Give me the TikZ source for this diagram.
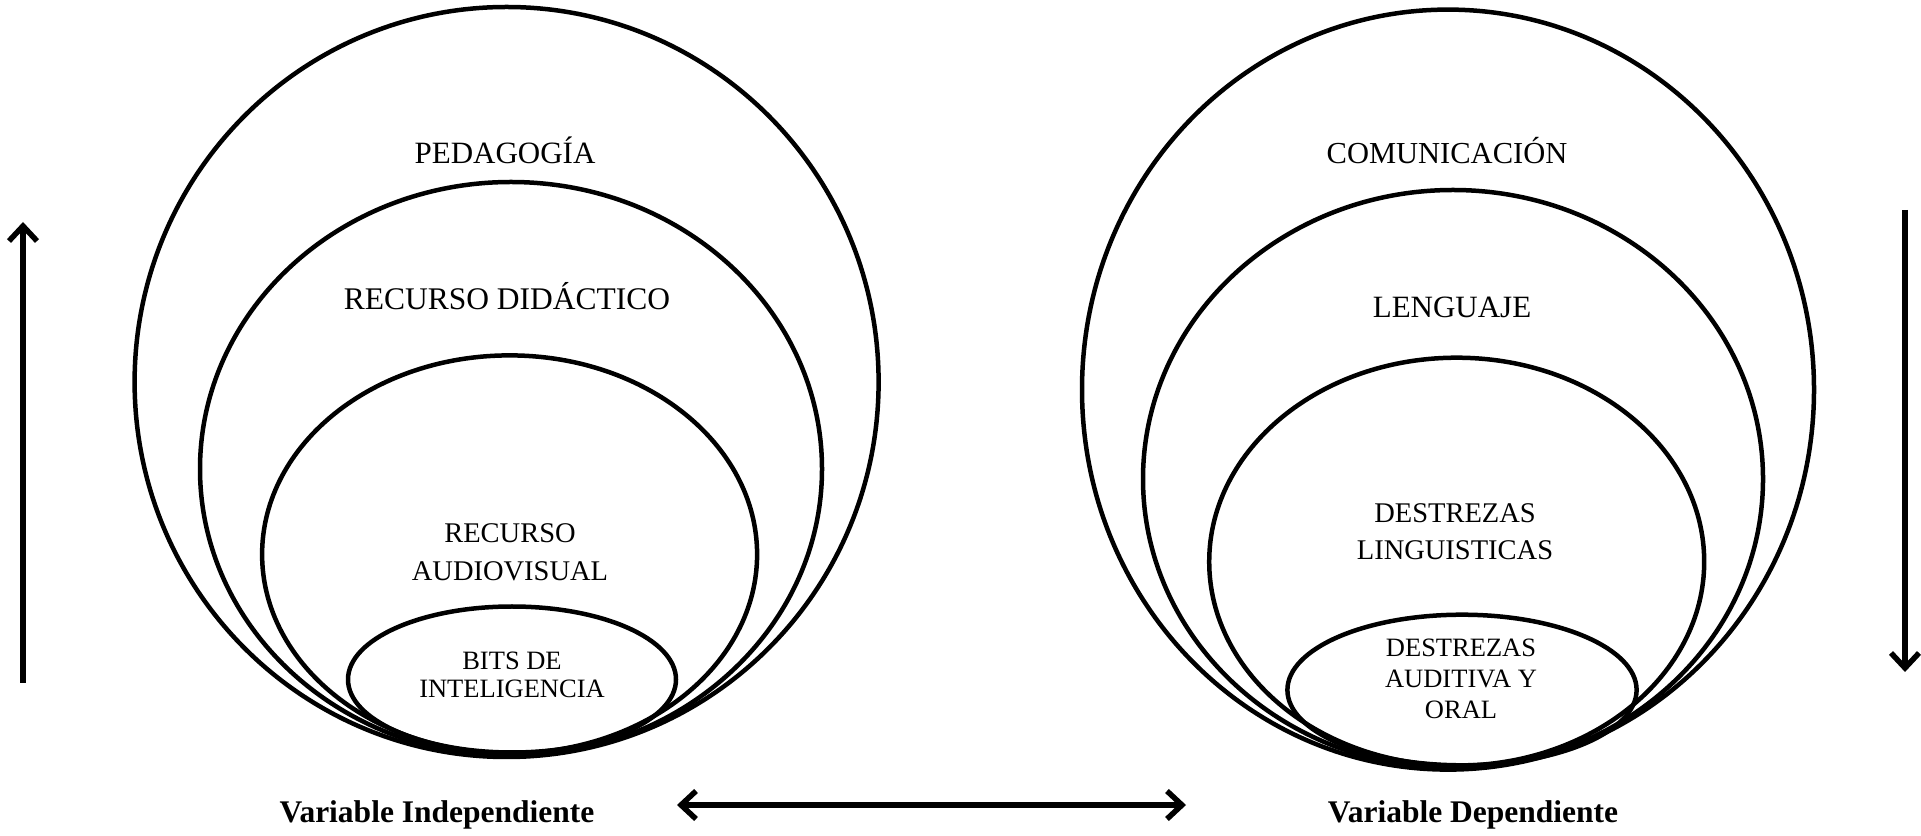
\documentclass[tikz,border=0pt]{standalone}
\usepackage{fontspec}
\setmainfont{Liberation Serif}
\usetikzlibrary{arrows.meta}
\usetikzlibrary{positioning}

\tikzset{
  ring/.style={line width=4.5pt},
  biglabel/.style={font=\fontsize{31}{37}\selectfont, align=center},
  midlabel/.style={font=\fontsize{28.5}{38}\selectfont, align=center},
  smalllabel/.style={font=\fontsize{26.5}{28}\selectfont, align=center},
  varlabel/.style={font=\bfseries\fontsize{31.5}{36}\selectfont},
  flow/.style={line width=5.5pt},
}

\begin{document}
\begin{tikzpicture}[x=1pt, y=1pt, >={Straight Barb[length=15pt, width=28pt]}]
\useasboundingbox (0,0) rectangle (1921,835);
%Independiente
\begin{scope}
  \draw[ring] (506.6, 453) ellipse [x radius=372, y radius=375];
  \draw[ring] (511, 366) ellipse [x radius=311, y radius=287];
  \draw[ring] (509.6, 280.6) ellipse [x radius=247.5, y radius=199];
  \draw[ring] (512, 155.5) ellipse [x radius=164, y radius=73];

  \node[biglabel] (pedagogia) at (505, 685) {PEDAGOGÍA};
  \node[biglabel, font=\fontsize{31.5}{37}\selectfont] (didactico) at (507, 539) {RECURSO DIDÁCTICO};
  \node[midlabel] (audiovisual) at (510, 283) {RECURSO\\AUDIOVISUAL};
  \node[smalllabel] (bits) at (512, 160) {BITS DE\\INTELIGENCIA};
\end{scope}

%Dependiente
\begin{scope}
  \draw[ring] (1448, 445.4) ellipse [x radius=366, y radius=380];
  \draw[ring] (1453, 356) ellipse [x radius=310, y radius=289];
  \draw[ring] (1456.7, 273.3) ellipse [x radius=247.5, y radius=204];
  \draw[ring] (1462, 145) ellipse [x radius=174.6, y radius=75.3];

  \node[biglabel, font=\fontsize{30.5}{37}\selectfont] (comunicacion) at (1447, 684) {COMUNICACIÓN};
  \node[biglabel] (lenguaje) at (1452, 528) {LENGUAJE};
  \node[midlabel, font=\fontsize{28.5}{37}\selectfont] (linguisticas) at (1455, 303) {DESTREZAS\\LINGUISTICAS};
  \node[smalllabel, font=\fontsize{26.5}{31}\selectfont] (auditiva) at (1461, 156) {DESTREZAS\\AUDITIVA Y\\ORAL};
\end{scope}

%flechas
\coordinate (uptail) at (23, 152);
\coordinate (uptip) at (23, 613);
\draw[flow, ->] (uptail) -- (uptip);

\coordinate (downtail) at (1905, 625);
\coordinate (downtip) at (1905, 163);
\draw[flow, ->] (downtail) -- (downtip);

\node[varlabel] (indep) at (437, 20) {Variable Independiente};
\node[varlabel] (dep) at (1473, 20) {Variable Dependiente};

\coordinate (leftend) at (677, 30);
\coordinate (rightend) at (1186, 30);
\draw[flow, <->] (leftend) -- (rightend);
\end{tikzpicture}
\end{document}
